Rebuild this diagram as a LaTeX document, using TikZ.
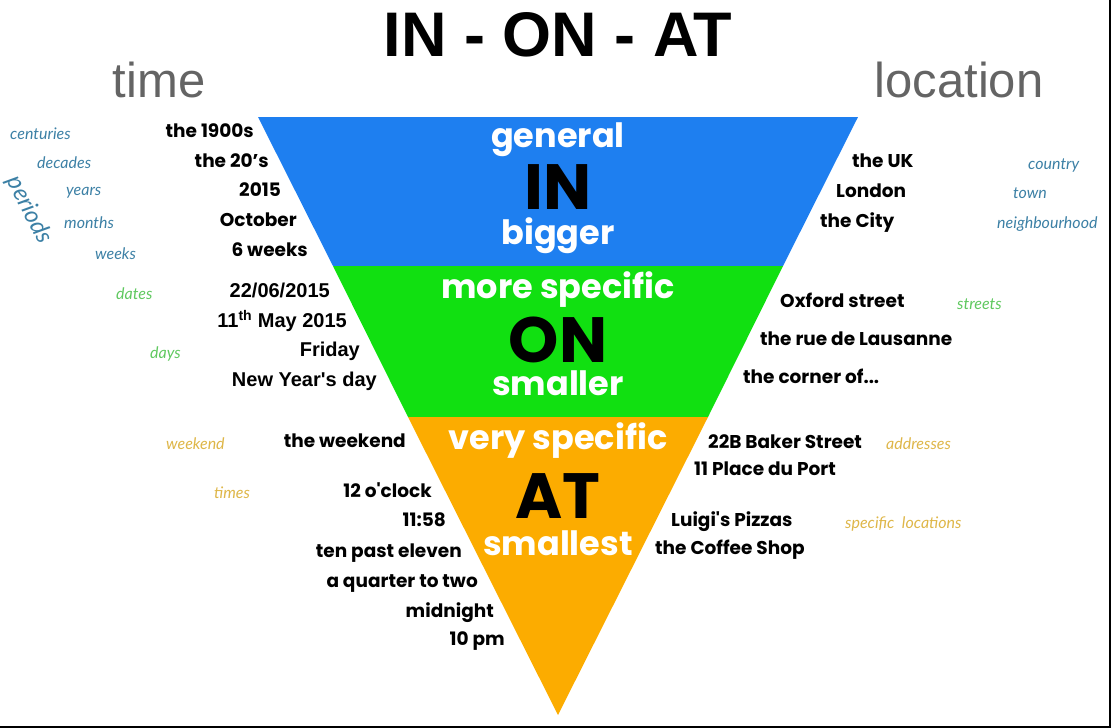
\documentclass[tikz,border=0pt]{standalone}
\usepackage{fontspec}
\setmainfont{Poppins}[Ligatures=TeXOff]
\newfontfamily\arialfont{Liberation Sans}[Ligatures=TeXOff]
\newfontfamily\handfont{Lato}
\usetikzlibrary{positioning}
\definecolor{inblue}{RGB}{30,127,240}
\definecolor{ongreen}{RGB}{17,224,17}
\definecolor{atorange}{RGB}{252,172,0}
\definecolor{hintblue}{RGB}{60,128,165}
\definecolor{hintgreen}{RGB}{95,200,95}
\definecolor{hintorange}{RGB}{222,182,72}
\definecolor{headgrey}{RGB}{100,100,100}

\begin{document}
\begin{tikzpicture} [
    x=1pt, y=-1pt,
    lword/.style={anchor=mid east, inner sep=0pt, yshift=-4pt, font=\fontsize{18.5}{18.5}\selectfont\bfseries},
    rword/.style={anchor=mid west, inner sep=0pt, yshift=-4pt, font=\fontsize{18.5}{18.5}\selectfont\bfseries},
    larial/.style={lword, font=\fontsize{20}{20}\arialfont\bfseries},
    hint/.style={anchor=mid west, inner sep=0pt, yshift=-4pt, font=\fontsize{16}{16}\handfont\itshape},
    band/.style={anchor=mid, inner sep=0pt, yshift=-8pt, text=white, font=\fontsize{33.5}{33.5}\selectfont\bfseries},
    prep/.style={inner sep=0pt, font=\fontsize{64}{64}\selectfont\bfseries},
    head/.style={inner sep=0pt, text=headgrey, font=\fontsize{49}{49}\arialfont}
    ]
    \useasboundingbox (0,0) rectangle (1111,728);
    %Bands
    \fill[inblue]    (258,117) -- (858,117) -- (783,266) -- (333,266) -- cycle;
    \fill[ongreen]   (333,266) -- (783,266) -- (708,417) -- (408,417) -- cycle;
    \fill[atorange]  (408,417) -- (708,417) -- (558,715) -- cycle;
    %Frame
    \draw[line width=2pt] (0,726.5) -- (1110,726.5) -- (1110,0);
    %Headings
    \node[inner sep=0pt, font=\fontsize{63}{63}\arialfont\bfseries] (title) at (558,35) {IN - ON - AT};
    \node[head]      (time)     at (159,80)                                  {time};
    \node[head]      (location) at (959,80)                                  {location};
    %Inside the triangle
    \node[band]      (general)  at (558,137)                                 {general};
    \node[prep]      (in)       at (558,187)                                 {IN};
    \node[band]      (bigger)   at (558,234)                                 {bigger};
    \node[band]      (morespec) at (558,288)                                 {more specific};
    \node[prep]      (on)       at (558,340)                                 {ON};
    \node[band]      (smaller)  at (558,385)                                 {smaller};
    \node[band]      (veryspec) at (558,439)                                 {very specific};
    \node[prep]      (at)       at (558,496)                                 {AT};
    \node[band]      (smallest) at (558,545)                                 {smallest};
    %Time
    \node[lword]     (t1900s)   at (254,131)                                 {the 1900s};
    \node[lword]     (t20s)     at (269,161)                                 {the 20’s};
    \node[lword]     (t2015)    at (281,190)                                 {2015};
    \node[lword]     (toct)     at (297,220)                                 {October};
    \node[lword]     (tweeks)   at (308,250)                                 {6 weeks};
    \node[larial]    (tdate)    at (330,291)                                 {22/06/2015};
    \node[larial]    (tmay)     at (347,321)                                 {11\textsuperscript{th} May 2015};
    \node[larial]    (tfri)     at (360,350)                                 {Friday};
    \node[larial]    (tnewyear) at (377,380)                                 {New Year's day};
    \node[lword]     (twkend)   at (406,441)                                 {the weekend};
    \node[lword]     (tclock)   at (432,491)                                 {12 o'clock};
    \node[lword]     (t1158)    at (446,520)                                 {11:58};
    \node[lword]     (tpast)    at (462,551)                                 {ten past eleven};
    \node[lword]     (tquarter) at (478,581)                                 {a quarter to two};
    \node[lword]     (tmid)     at (494,611)                                 {midnight};
    \node[lword]     (t10pm)    at (505,639)                                 {10 pm};
    \node[hint, text=hintblue]   (hcent)   at (10,133)                       {centuries};
    \node[hint, text=hintblue]   (hdec)    at (37,162)                       {decades};
    \node[hint, text=hintblue]   (hyears)  at (66,189)                       {years};
    \node[hint, text=hintblue]   (hmonths) at (64,222)                       {months};
    \node[hint, text=hintblue]   (hweeks)  at (95,253)                       {weeks};
    \node[hint, text=hintblue, anchor=center, yshift=0pt, rotate=-63,
          font=\fontsize{24}{24}\handfont\itshape] (hperiods) at (29,206)    {periods};
    \node[hint, text=hintgreen]  (hdates)  at (116,293)                      {dates};
    \node[hint, text=hintgreen]  (hdays)   at (150,352)                      {days};
    \node[hint, text=hintorange] (hwkend)  at (166,443)                      {weekend};
    \node[hint, text=hintorange] (htimes)  at (214,492)                      {times};
    %Location
    \node[rword]     (luk)      at (852,161)                                 {the UK};
    \node[rword]     (llondon)  at (836,191)                                 {London};
    \node[rword]     (lcity)    at (820,221)                                 {the City};
    \node[rword]     (loxford)  at (780,301)                                 {Oxford street};
    \node[rword]     (lrue)     at (760,339)                                 {the rue de Lausanne};
    \node[rword]     (lcorner)  at (743,377)                                 {the corner of...};
    \node[rword]     (lbaker)   at (708,442)                                 {22B Baker Street};
    \node[rword]     (lport)    at (694,469)                                 {11 Place du Port};
    \node[rword]     (lluigi)   at (671,520)                                 {Luigi's Pizzas};
    \node[rword]     (lcoffee)  at (655,548)                                 {the Coffee Shop};
    \node[hint, text=hintblue]   (hcountry) at (1028,163)                    {country};
    \node[hint, text=hintblue]   (htown)    at (1013,192)                    {town};
    \node[hint, text=hintblue]   (hneigh)   at (997,222)                     {neighbourhood};
    \node[hint, text=hintgreen]  (hstreets) at (957,303)                     {streets};
    \node[hint, text=hintorange] (haddr)    at (886,443)                     {addresses};
    \node[hint, text=hintorange] (hspec)    at (845,522)                     {specific\ \ locations};
\end{tikzpicture}
\end{document}
